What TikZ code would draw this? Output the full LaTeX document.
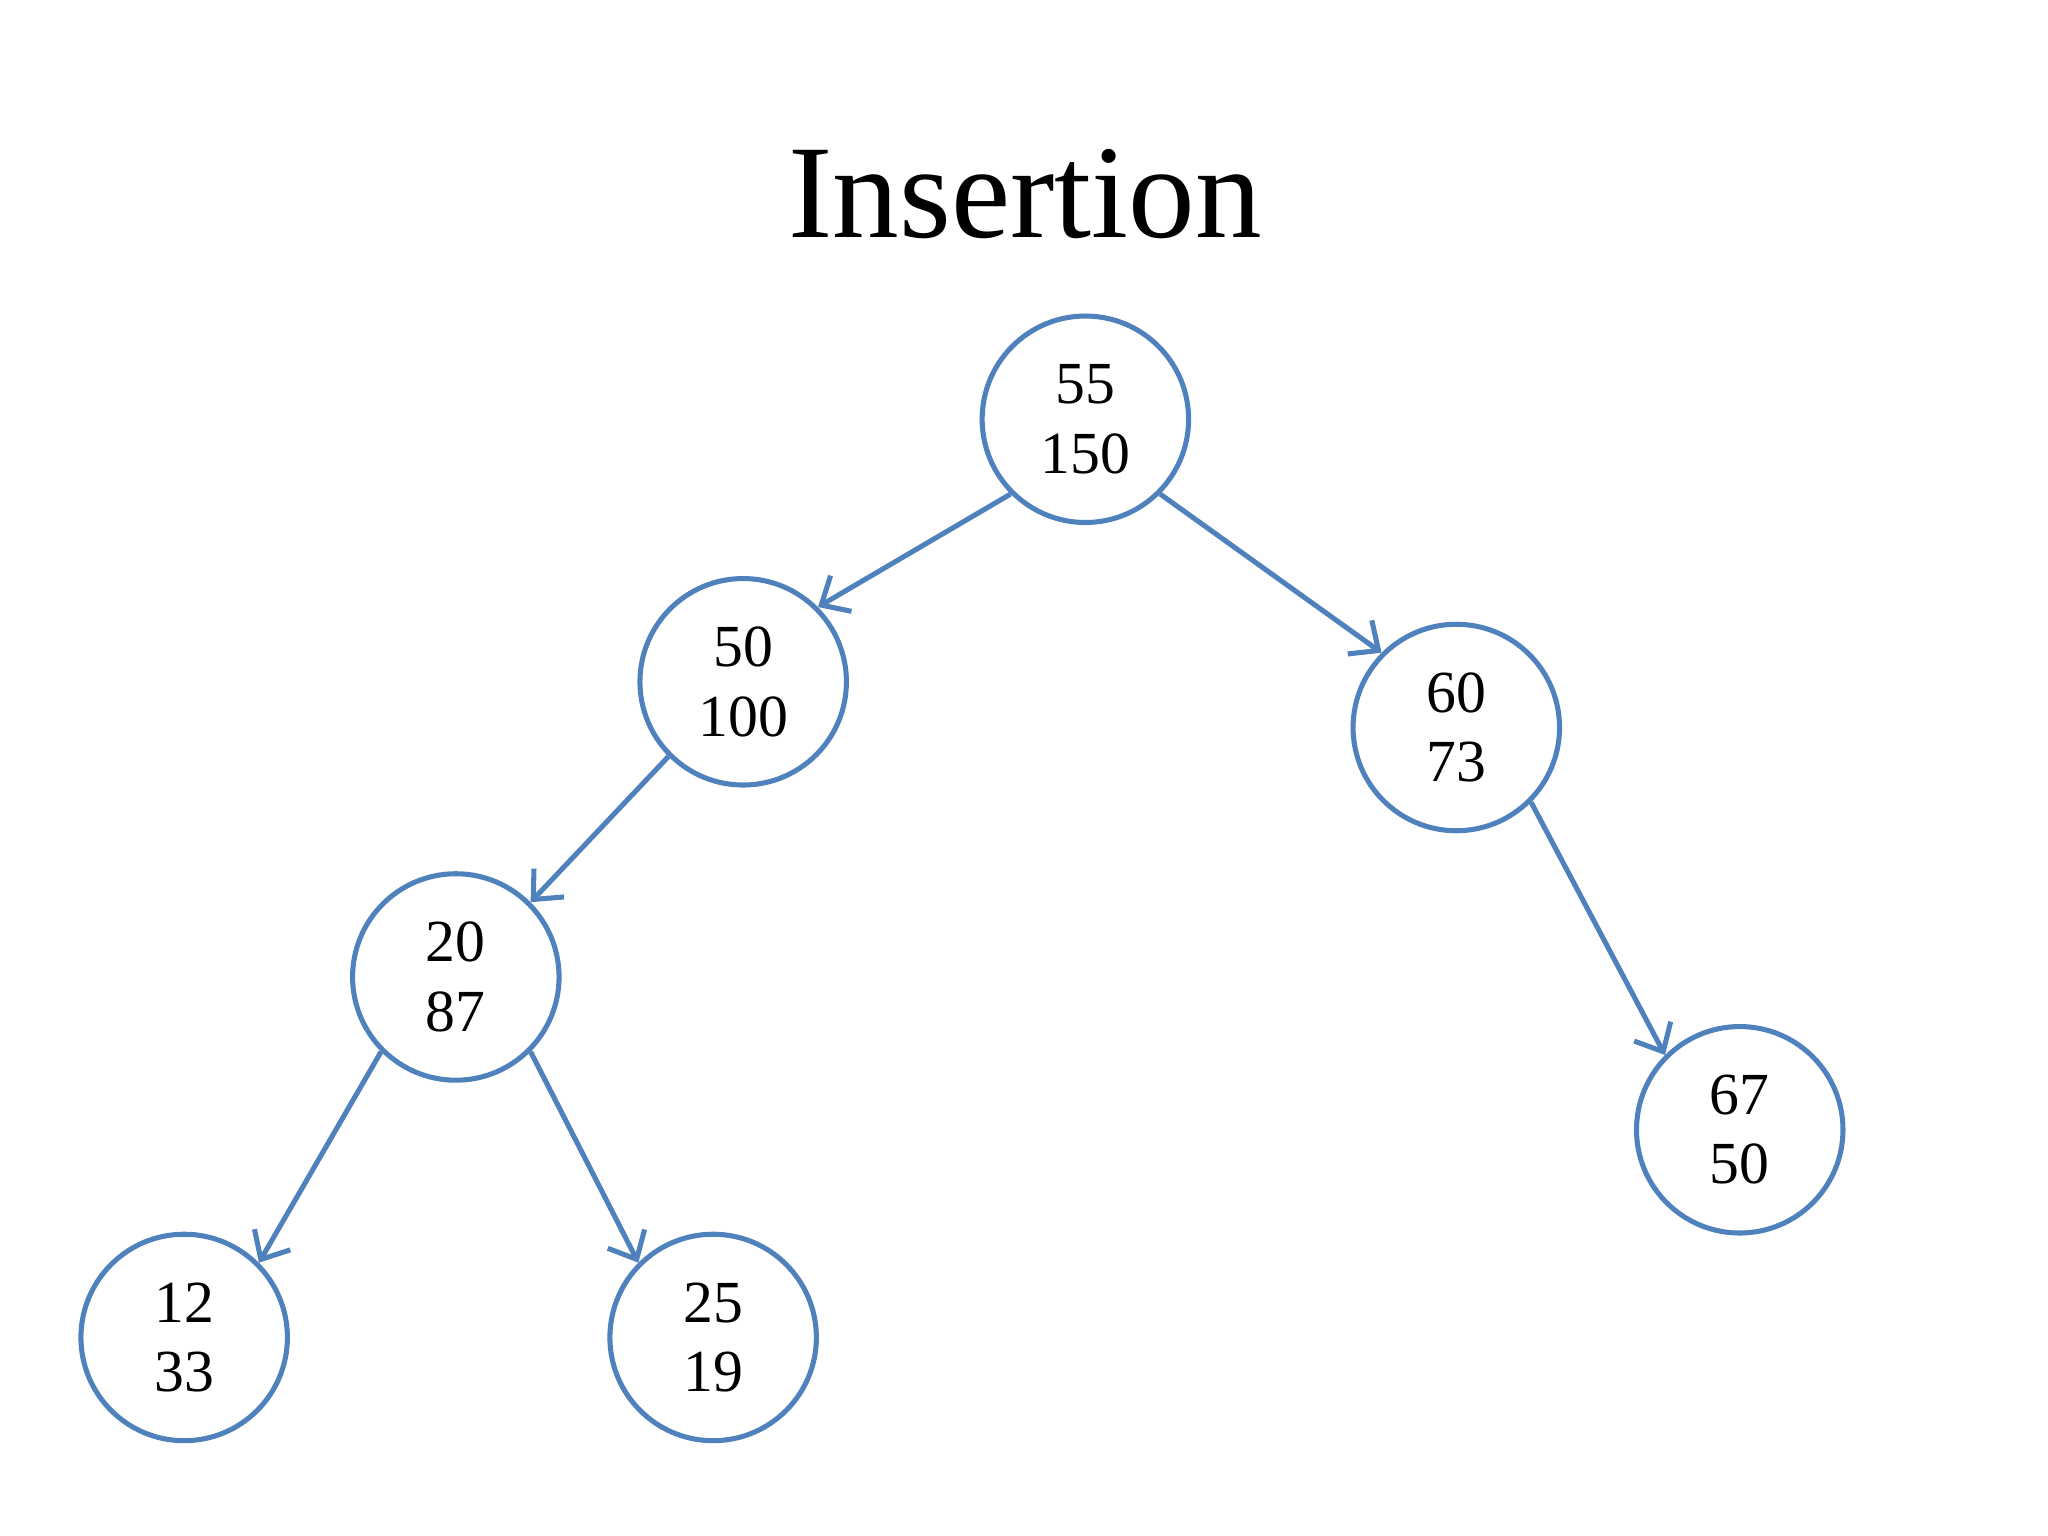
\documentclass[tikz,border=0pt]{standalone}
\usepackage{fontspec}
\setmainfont{Liberation Serif}
\usetikzlibrary{arrows.meta}
\definecolor{nodeblue}{HTML}{4F81BD}
\begin{document}
\begin{tikzpicture}[x=0.01cm,y=-0.01cm,
  treenode/.style={circle,draw=nodeblue,line width=1.1pt,fill=white,minimum size=1.58cm,inner sep=0pt,align=center,font=\fontsize{13}{15.1}\selectfont},
  treeedge/.style={draw=nodeblue,line width=1.1pt,-{Straight Barb[length=5pt,width=9pt]}},
  titletext/.style={anchor=base,font=\fontsize{29}{34}\selectfont}]
\useasboundingbox[fill=white] (0,0) rectangle (1568,1176);
\node[titletext] (title) at (785,182) {Insertion};
\node[treenode] (n55) at (831,321) {55\\150};
\node[treenode] (n50) at (569,522) {50\\100};
\node[treenode] (n60) at (1115,557) {60\\73};
\node[treenode] (n20) at (349,748) {20\\87};
\node[treenode] (n67) at (1332,865) {67\\50};
\node[treenode] (n12) at (141,1024) {12\\33};
\node[treenode] (n25) at (546,1024) {25\\19};
\draw[treeedge] (n55.225) -- (n50.45);
\draw[treeedge] (n55.315) -- (n60.135);
\draw[treeedge] (n50.225) -- (n20.45);
\draw[treeedge] (n60.315) -- (n67.135);
\draw[treeedge] (n20.225) -- (n12.45);
\draw[treeedge] (n20.315) -- (n25.135);
\end{tikzpicture}
\end{document}
